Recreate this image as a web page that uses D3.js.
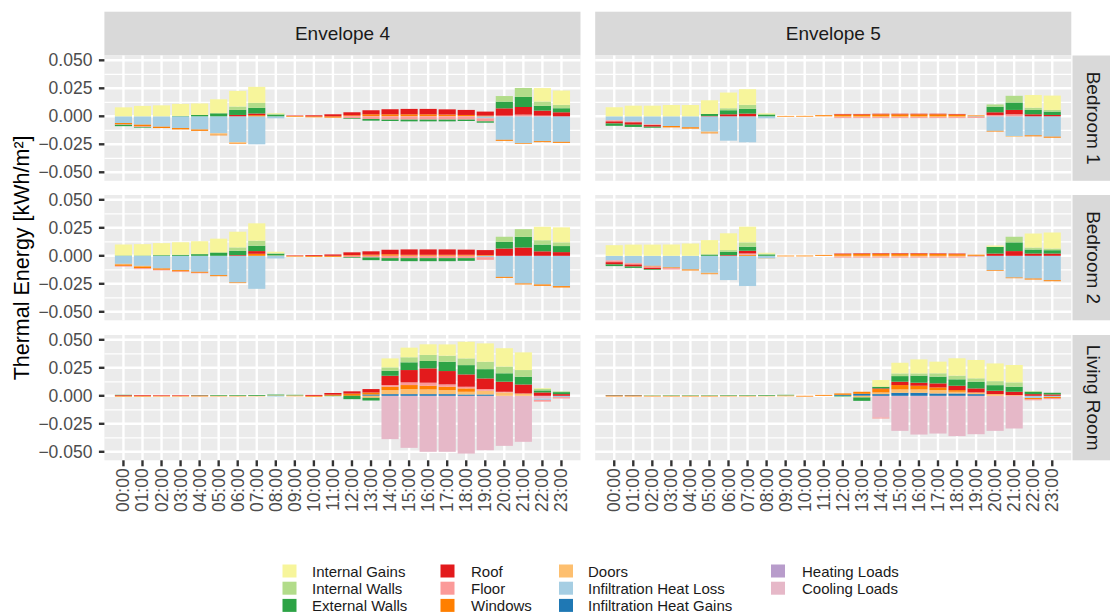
<!DOCTYPE html>
<html>
<head>
<meta charset="utf-8">
<script src="https://cdn.jsdelivr.net/npm/d3@7"></script>
<style>
  html, body { margin: 0; padding: 0; background: #fff; }
  svg { display: block; font-family: "Liberation Sans", Arial, sans-serif; }
</style>
</head>
<body>
<svg id="chart" width="1110" height="614"></svg>
<script>
// ---- categories ----
const hours = ["00:00","01:00","02:00","03:00","04:00","05:00","06:00","07:00",
  "08:00","09:00","10:00","11:00","12:00","13:00","14:00","15:00",
  "16:00","17:00","18:00","19:00","20:00","21:00","22:00","23:00"];
const envelopes = ["Envelope 4", "Envelope 5"];
const rooms = ["Bedroom 1", "Bedroom 2", "Living Room"];
const components = ["Internal Gains", "Internal Walls", "External Walls", "Roof", "Floor",
  "Windows", "Doors", "Infiltration Heat Loss", "Infiltration Heat Gains",
  "Heating Loads", "Cooling Loads"];
const componentColors = ["#f7f59b", "#b2dc8a", "#2da346", "#e31a1c", "#fb9a99",
  "#ff7f00", "#fdbf6f", "#a6cee3", "#1f78b4", "#b89ccb", "#e6b8c8"];
const yTickValues = [0.05, 0.025, 0, -0.025, -0.05];
const yMinorValues = [0.0375, 0.0125, -0.0125, -0.0375];

const Z = [0,0,0,0,0,0,0,0,0,0,0,0,0,0,0,0,0,0,0,0,0,0,0,0];

// ---- hourly energy balance, kWh/m², one table per room and envelope ----
const bedroom1Envelope4 = {
  "Internal Gains":          [0.0080,0.0093,0.0098,0.0108,0.0103,0.0125,0.0140,0.0143,0.0006,0,0,0,0,0,0,0,0,0,0,0,0,0,0.0120,0.0128],
  "Internal Walls":          [0,0,0,0,0,0,0.0030,0.0045,0.0008,0,0,0,0,0,0,0,0,0,0,0,0.0050,0.0080,0.0039,0.0030],
  "External Walls":          [-0.0012,-0.0006,0,0.0003,0.0012,0.0027,0.0045,0.0050,0.0015,0,0,0,-0.0006,-0.0015,-0.0012,-0.0015,-0.0015,-0.0015,-0.0012,-0.0012,0.0060,0.0090,0.0042,0.0036],
  "Roof":                    [0,0,0,0,0,0,0.0012,0.0015,0,0.0004,0.0009,0.0018,0.0027,0.0036,0.0045,0.0048,0.0048,0.0046,0.0045,0.0036,0.0065,0.0068,0.0045,0.0036],
  "Floor":                   [-0.0004,-0.0005,0,0,0,0,0,0,0,0,0,0,-0.0018,-0.0024,-0.0030,-0.0030,-0.0030,-0.0030,-0.0030,-0.0027,0.0006,0.0015,0.0006,0],
  "Windows":                 [-0.0012,-0.0015,-0.0012,-0.0012,-0.0012,-0.0006,-0.0006,0.0010,0,-0.0006,-0.0009,-0.0012,0.0009,0.0018,0.0018,0.0018,0.0018,0.0016,0.0012,0.0006,-0.0009,-0.0006,-0.0009,-0.0009],
  "Doors":                   [0,0,0,0,0,-0.0012,-0.0006,0,0,0.0003,0,0,0,0,0,0,0,0,0,0,0,0,0,0],
  "Infiltration Heat Loss":  [-0.0060,-0.0075,-0.0093,-0.0105,-0.0118,-0.0152,-0.0232,-0.0250,-0.0018,0,0,0,0,0,0,0,0,0,0,-0.0018,-0.0210,-0.0240,-0.0222,-0.0228],
  "Infiltration Heat Gains": Z,
  "Heating Loads":           Z,
  "Cooling Loads":           Z
};

const bedroom1Envelope5 = {
  "Internal Gains":          [0.0081,0.0095,0.0095,0.0101,0.0101,0.0122,0.0140,0.0140,0.0006,0,0,0,0,0,0,0,0,0,0,0,0,0,0.0113,0.0128],
  "Internal Walls":          [0,0,0,0,0,0,0.0018,0.0036,0.0009,0,0,0,0,0,0,0,0,0,0,0,0.0020,0.0060,0.0020,0.0015],
  "External Walls":          [-0.0021,-0.0020,-0.0009,0,0,0.0018,0.0036,0.0042,0.0012,0,0,0,0,0,0,0,0,0,0,0,0.0050,0.0066,0.0039,0.0030],
  "Roof":                    [-0.0018,-0.0021,-0.0015,0,0,0.0003,0.0018,0.0024,0,0,0,0,0.0005,0.0005,0.0005,0.0005,0.0005,0.0005,0.0005,0,0.0024,0.0039,0.0018,0.0012],
  "Floor":                   [-0.0010,-0.0006,-0.0006,0,0,0,0,0,0,0,0,0,-0.0008,-0.0008,-0.0008,-0.0008,-0.0008,-0.0008,-0.0008,-0.0008,0.0012,0.0018,0,0],
  "Windows":                 [0,0,0,-0.0012,-0.0012,-0.0006,0,0,0,-0.0005,-0.0005,0.0010,0.0016,0.0016,0.0018,0.0018,0.0018,0.0018,0.0016,0.0008,-0.0006,0,-0.0009,-0.0009],
  "Doors":                   [0,0,0,0,0,-0.0009,0,0,0,0.0004,0.0005,0,-0.0008,-0.0008,-0.0008,-0.0008,-0.0008,-0.0008,-0.0008,0,0,-0.0006,0,0],
  "Infiltration Heat Loss":  [-0.0036,-0.0048,-0.0072,-0.0087,-0.0098,-0.0137,-0.0218,-0.0232,-0.0018,0,0,0,0,0,0,0,0,0,0,-0.0006,-0.0130,-0.0176,-0.0170,-0.0182],
  "Infiltration Heat Gains": Z,
  "Heating Loads":           Z,
  "Cooling Loads":           Z
};

const bedroom2Envelope4 = {
  "Internal Gains":          [0.0098,0.0101,0.0107,0.0112,0.0115,0.0120,0.0140,0.0155,0.0012,0,0,0,0,0,0,0,0,0,0,0,0,0,0.0120,0.0134],
  "Internal Walls":          [0,0,0,0,0,0.0008,0.0030,0.0045,0.0006,0,0,0,0,0,0,0,0,0,0,0,0.0045,0.0069,0.0039,0.0033],
  "External Walls":          [0.0003,0.0003,0.0006,0.0009,0.0015,0.0025,0.0039,0.0048,0.0015,0,0,0,-0.0006,-0.0024,-0.0024,-0.0027,-0.0027,-0.0027,-0.0024,0,0.0060,0.0095,0.0060,0.0054],
  "Roof":                    [0,0,0,0,0,0,0.0006,0.0024,0,0.0004,0.0007,0.0012,0.0025,0.0030,0.0040,0.0048,0.0048,0.0048,0.0046,0.0045,0.0065,0.0074,0.0040,0.0033],
  "Floor":                   [-0.0006,-0.0008,-0.0005,-0.0005,-0.0004,0,0,0,0,0,0,0,-0.0012,-0.0015,-0.0021,-0.0021,-0.0021,-0.0021,-0.0021,-0.0024,0,0,0,0],
  "Windows":                 [-0.0012,-0.0015,-0.0012,-0.0012,-0.0009,-0.0009,-0.0006,0.0018,0,-0.0007,-0.0009,-0.0009,0.0006,0.0010,0.0014,0.0009,0.0009,0.0009,0.0009,0.0006,-0.0009,-0.0009,-0.0012,-0.0012],
  "Doors":                   [-0.0006,-0.0006,0,0,0,0,0,0,0.0003,0,0,0,0,0,0,0,0,0,0,0,0,0,0,0],
  "Infiltration Heat Loss":  [-0.0072,-0.0090,-0.0113,-0.0128,-0.0143,-0.0173,-0.0238,-0.0295,-0.0024,0,0,0,0,0,0,0,0,0,0,-0.0012,-0.0188,-0.0247,-0.0256,-0.0271],
  "Infiltration Heat Gains": Z,
  "Heating Loads":           Z,
  "Cooling Loads":           Z
};

const bedroom2Envelope5 = {
  "Internal Gains":          [0.0095,0.0100,0.0100,0.0101,0.0110,0.0128,0.0150,0.0140,0.0009,0,0,0,0,0,0,0,0,0,0,0,0.0012,0,0.0125,0.0143],
  "Internal Walls":          [0,0,0,0,0,0,0.0015,0.0039,0.0006,0,0,0,0,0,0,0,0,0,0,0,0,0.0050,0.0018,0.0015],
  "External Walls":          [-0.0015,-0.0012,-0.0006,0,0,0.0012,0.0030,0.0036,0.0012,0,0,0,0,0,0,0,0,0,0,0,0.0060,0.0078,0.0036,0.0030],
  "Roof":                    [-0.0020,-0.0018,-0.0012,0,0,0,0.0006,0.0024,0,0,0,0,0.0005,0.0005,0.0005,0.0005,0.0005,0.0005,0.0005,0,0.0020,0.0042,0.0020,0.0020],
  "Floor":                   [-0.0015,-0.0012,-0.0012,-0.0012,0,0,0,0.0012,0,0,0,0,-0.0008,-0.0008,-0.0008,-0.0008,-0.0008,-0.0008,-0.0008,-0.0005,0,0,0,0],
  "Windows":                 [0,0,-0.0006,-0.0006,-0.0009,-0.0006,0,0.0009,0,-0.0005,-0.0005,0.0008,0.0015,0.0017,0.0018,0.0018,0.0018,0.0016,0.0015,0.0010,-0.0006,-0.0006,-0.0009,-0.0009],
  "Doors":                   [0,0,0,0,0,-0.0006,0,0,-0.0003,0.0004,0.0005,0,-0.0008,-0.0008,-0.0008,-0.0008,-0.0008,-0.0008,-0.0008,0,0,0,0,0],
  "Infiltration Heat Loss":  [-0.0042,-0.0066,-0.0090,-0.0104,-0.0122,-0.0152,-0.0217,-0.0270,-0.0024,0,0,0,0,0,0,0,0,0,0,-0.0006,-0.0128,-0.0194,-0.0203,-0.0218],
  "Infiltration Heat Gains": Z,
  "Heating Loads":           Z,
  "Cooling Loads":           Z
};

const livingRoomEnvelope4 = {
  "Internal Gains":          [0,0,0,0,0,0,0,0,0,0,0,0,0,0,0.0080,0.0086,0.0095,0.0101,0.0149,0.0164,0.0164,0.0158,0.0006,0],
  "Internal Walls":          [0,0,0,0,0,0,0,0,0,0,0,0,0,0,0.0030,0.0045,0.0054,0.0054,0.0060,0.0066,0.0060,0.0060,0.0015,0.0006],
  "External Walls":          [0.0003,0,0,0,0.0003,0.0006,0.0006,0.0007,0.0007,0.0005,0,-0.0004,-0.0030,-0.0024,0.0045,0.0069,0.0066,0.0083,0.0083,0.0083,0.0075,0.0069,0.0018,0.0018],
  "Roof":                    [0.0006,0.0006,0.0005,0.0005,0.0004,0,0,0,0,0,0.0008,0.0015,0.0020,0.0030,0.0083,0.0110,0.0128,0.0119,0.0110,0.0095,0.0090,0.0080,0.0030,0.0015],
  "Floor":                   [0,0,0,0,0,0,0,0,0,0,0,0,0,0,0.0015,0.0024,0.0027,0.0021,0.0015,0.0015,0.0006,0,-0.0015,-0.0012],
  "Windows":                 [-0.0007,-0.0007,-0.0006,-0.0006,-0.0006,-0.0005,-0.0005,-0.0004,0,-0.0004,-0.0008,0.0010,0.0020,0.0018,0.0030,0.0036,0.0033,0.0030,0.0030,0,0,0,0,0],
  "Doors":                   [0,0,0,0,0,0,0,0,0.0004,0.0004,0,0,0,-0.0018,0.0036,0.0045,0.0042,0.0036,0.0024,0.0033,0.0030,0.0021,0,0],
  "Infiltration Heat Loss":  [0,0,0,0,0,0,0,0,-0.0007,0,0,0,0,0,0,0,0,0,0,0,0,0,-0.0012,-0.0012],
  "Infiltration Heat Gains": [0,0,0,0,0,0,0,0,0,0,0,0,0,0.0012,0.0015,0.0015,0.0015,0.0015,0.0012,0.0012,0,0,0,0],
  "Heating Loads":           Z,
  "Cooling Loads":           [0,0,0,0,0,0,0,0,0,0,0,0,0,0,-0.0387,-0.0465,-0.0500,-0.0500,-0.0516,-0.0486,-0.0447,-0.0411,-0.0025,0]
};

const livingRoomEnvelope5 = {
  "Internal Gains":          [0,0,0,0,0,0,0,0,0,0,0,0,0,0,0.0060,0.0095,0.0125,0.0104,0.0155,0.0164,0.0158,0.0155,0,0],
  "Internal Walls":          [0,0,0,0,0,0,0,0,0,0,0,0,0,0,0,0.0024,0.0020,0.0030,0.0033,0.0030,0.0036,0.0039,0.0006,0],
  "External Walls":          [0.0003,0.0003,0.0003,0.0004,0.0004,0.0004,0.0005,0.0005,0.0006,0.0005,0,0,-0.0006,-0.0030,0.0015,0.0050,0.0063,0.0060,0.0057,0.0060,0.0050,0.0045,0.0020,0.0015],
  "Roof":                    [0.0004,0.0004,0,0,0,0,0,0,0,0,0,0,0,0,0.0006,0.0030,0.0027,0.0036,0.0039,0.0036,0.0030,0.0030,0.0015,0.0012],
  "Floor":                   [0,0,0,0,0,0,0,0,0,0,0,0,0,0,-0.0009,0,0,0,0,0,0,0,-0.0010,-0.0010],
  "Windows":                 [-0.0006,-0.0006,-0.0006,-0.0006,-0.0006,-0.0006,-0.0005,-0.0005,-0.0004,-0.0004,-0.0007,0.0008,0.0012,0.0018,0.0030,0.0039,0.0033,0.0024,0.0015,0,0,0,-0.0010,-0.0010],
  "Doors":                   [0,0,0,0,0,0,0,0,0,0.0004,0,0,0,-0.0015,0.0015,0.0030,0.0030,0.0030,0.0015,0.0015,0.0015,0.0006,0,0],
  "Infiltration Heat Loss":  [0,0,0,0,0,0,0,0,0,0,0,0,0,0,0,0,0,0,0,0,0,0,-0.0020,-0.0010],
  "Infiltration Heat Gains": [0,0,0,0,0,0,0,0,0,0,0,0,0.0009,0.0018,0.0015,0.0027,0.0027,0.0021,0.0021,0.0015,0,0,0,0],
  "Heating Loads":           Z,
  "Cooling Loads":           [0,0,0,0,0,0,0,0,0,0,0,0,0,0,-0.0194,-0.0313,-0.0346,-0.0337,-0.0360,-0.0343,-0.0313,-0.0292,0,0]
};

// row = room, column = envelope
const facetTables = [
  [bedroom1Envelope4, bedroom1Envelope5],
  [bedroom2Envelope4, bedroom2Envelope5],
  [livingRoomEnvelope4, livingRoomEnvelope5]
];

// ---- layout ----
const svg = d3.select("#chart");
const panelLeft = [104.4, 595.2];
const panelWidth = 476.1;
const panelTop = [55.5, 195, 335];
const panelHeight = 125.3;
const stripTopY = 11.7;
const stripRightW = 43.8;

const color = d3.scaleOrdinal().domain(components).range(componentColors);

// ggplot-style stacking: first level furthest from zero, last level nearest
const stackKeys = components.slice().reverse();
const stack = d3.stack().keys(stackKeys).offset(d3.stackOffsetDiverging);

envelopes.forEach((env, ci) => {
  // column strip
  svg.append("rect")
    .attr("x", panelLeft[ci]).attr("y", stripTopY)
    .attr("width", panelWidth).attr("height", panelTop[0] - stripTopY)
    .attr("fill", "#d9d9d9");
  svg.append("text")
    .attr("x", panelLeft[ci] + panelWidth / 2).attr("y", (stripTopY + panelTop[0]) / 2)
    .attr("text-anchor", "middle").attr("dominant-baseline", "central")
    .attr("font-size", 19).attr("fill", "#1a1a1a").text(env);
});

rooms.forEach((room, ri) => {
  // row strip on the right
  const sx = panelLeft[1] + panelWidth + 1.2;
  svg.append("rect")
    .attr("x", sx).attr("y", panelTop[ri])
    .attr("width", stripRightW).attr("height", panelHeight)
    .attr("fill", "#d9d9d9");
  svg.append("text")
    .attr("transform", `translate(${sx + stripRightW / 2 - 1},${panelTop[ri] + panelHeight / 2}) rotate(90)`)
    .attr("text-anchor", "middle").attr("dominant-baseline", "central")
    .attr("font-size", 19).attr("fill", "#1a1a1a").text(room);
});

rooms.forEach((room, ri) => {
  const y = d3.scaleLinear().domain([-0.0576, 0.0543])
    .range([panelTop[ri] + panelHeight, panelTop[ri]]);

  envelopes.forEach((env, ci) => {
    const x = d3.scaleBand().domain(hours)
      .range([panelLeft[ci], panelLeft[ci] + panelWidth])
      .paddingInner(0.1).paddingOuter(0.55);

    const g = svg.append("g");
    g.append("rect")
      .attr("x", panelLeft[ci]).attr("y", panelTop[ri])
      .attr("width", panelWidth).attr("height", panelHeight)
      .attr("fill", "#ebebeb");

    // minor horizontal grid
    g.selectAll(".ymin").data(yMinorValues).join("line")
      .attr("x1", panelLeft[ci]).attr("x2", panelLeft[ci] + panelWidth)
      .attr("y1", d => y(d)).attr("y2", d => y(d))
      .attr("stroke", "#fff").attr("stroke-width", 1.3);
    // major horizontal grid
    g.selectAll(".ymaj").data(yTickValues).join("line")
      .attr("x1", panelLeft[ci]).attr("x2", panelLeft[ci] + panelWidth)
      .attr("y1", d => y(d)).attr("y2", d => y(d))
      .attr("stroke", "#fff").attr("stroke-width", 2.4);
    // vertical grid at each hour
    g.selectAll(".xmaj").data(hours).join("line")
      .attr("x1", d => x(d) + x.bandwidth() / 2).attr("x2", d => x(d) + x.bandwidth() / 2)
      .attr("y1", panelTop[ri]).attr("y2", panelTop[ri] + panelHeight)
      .attr("stroke", "#fff").attr("stroke-width", 2.4);

    // stacked bars
    const table = facetTables[ri][ci];
    const rows = hours.map((h, i) => {
      const r = { hour: h };
      components.forEach(c => { r[c] = table[c][i]; });
      return r;
    });
    const series = stack(rows);
    g.selectAll(".layer").data(series).join("g")
      .attr("fill", d => color(d.key))
      .selectAll("rect").data(d => d).join("rect")
        .attr("x", d => x(d.data.hour))
        .attr("width", x.bandwidth())
        .attr("y", d => y(Math.max(d[0], d[1])))
        .attr("height", d => Math.abs(y(d[0]) - y(d[1])));

    // y axis (left column only)
    if (ci === 0) {
      const ax = svg.append("g");
      ax.selectAll("line").data(yTickValues).join("line")
        .attr("x1", panelLeft[0] - 5.5).attr("x2", panelLeft[0])
        .attr("y1", d => y(d)).attr("y2", d => y(d))
        .attr("stroke", "#333").attr("stroke-width", 2.4);
      ax.selectAll("text").data(yTickValues).join("text")
        .attr("x", panelLeft[0] - 12).attr("y", d => y(d))
        .attr("text-anchor", "end").attr("dominant-baseline", "central")
        .attr("font-size", 17.5).attr("fill", "#4d4d4d")
        .text(d => d3.format(".3f")(d));
    }

    // x axis (bottom row only)
    if (ri === rooms.length - 1) {
      const bottom = panelTop[ri] + panelHeight;
      const ax = svg.append("g");
      ax.selectAll("line").data(hours).join("line")
        .attr("x1", d => x(d) + x.bandwidth() / 2).attr("x2", d => x(d) + x.bandwidth() / 2)
        .attr("y1", bottom).attr("y2", bottom + 6)
        .attr("stroke", "#333").attr("stroke-width", 2.4);
      ax.selectAll("text").data(hours).join("text")
        .attr("transform", d => `translate(${x(d) + x.bandwidth() / 2},${bottom + 8}) rotate(-90)`)
        .attr("text-anchor", "end").attr("dominant-baseline", "central")
        .attr("font-size", 17.5).attr("fill", "#4d4d4d")
        .text(d => d);
    }
  });
});

// y axis title
svg.append("text")
  .attr("transform", `translate(22,${(panelTop[0] + panelTop[2] + panelHeight) / 2}) rotate(-90)`)
  .attr("text-anchor", "middle").attr("dominant-baseline", "central")
  .attr("font-size", 21.5).attr("fill", "#000")
  .text("Thermal Energy [kWh/m²]");

// legend: 4 columns, filled column by column
const legendKeyX = [282.5, 440.5, 559, 771];
const legendTextX = [312, 471, 588, 802];
const legendRowY = [571, 588.2, 605.4];
const legend = svg.append("g");
components.forEach((c, i) => {
  const col = Math.floor(i / 3), row = i % 3;
  legend.append("rect")
    .attr("x", legendKeyX[col]).attr("y", legendRowY[row] - 6.5)
    .attr("width", 14).attr("height", 13)
    .attr("fill", color(c));
  legend.append("text")
    .attr("x", legendTextX[col]).attr("y", legendRowY[row])
    .attr("dominant-baseline", "central")
    .attr("font-size", 15).attr("fill", "#1a1a1a")
    .text(c);
});
</script>
</body>
</html>
